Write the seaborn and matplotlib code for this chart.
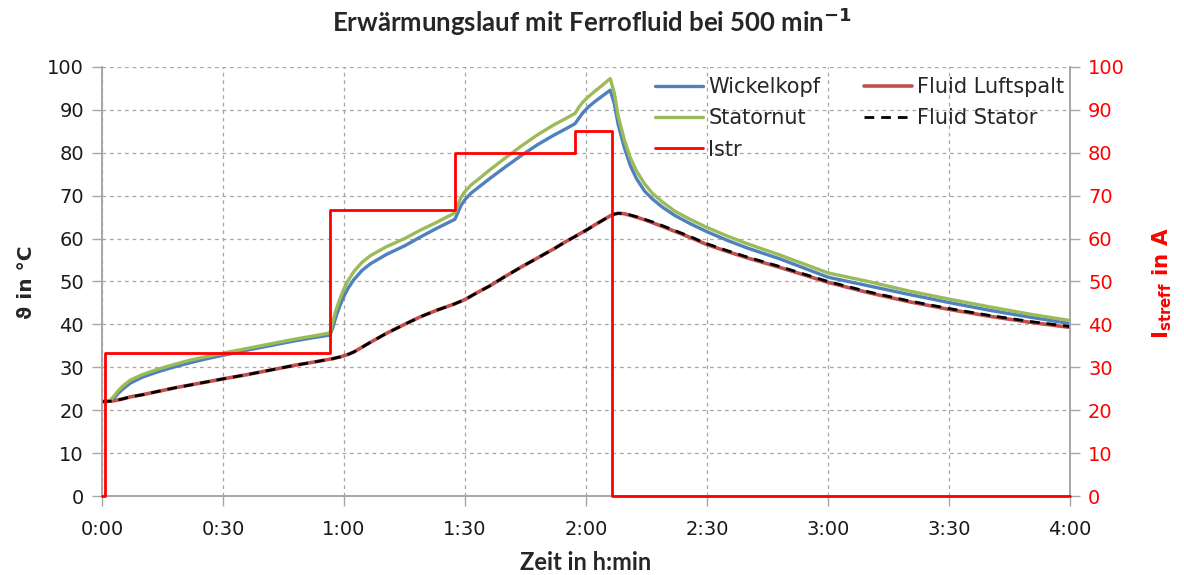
import matplotlib
matplotlib.use("Agg")
import matplotlib.pyplot as plt
import seaborn as sns
import numpy as np
import pandas as pd
from matplotlib.ticker import FuncFormatter

# ---------------- data ----------------
t_min = [0, 2, 3, 4, 5, 7, 10, 14, 18, 22, 26, 30, 36, 42, 48, 53, 56.5, 57.2, 58, 59,
         60, 61, 62.5, 64.5, 66.5, 70.5, 75, 79, 83, 87.5, 88.2, 89, 90, 91.5, 93, 96,
         100, 104, 108, 112, 115, 117.3, 118.2, 119.2, 120.5, 122, 124, 126, 127, 128,
         129.5, 131, 132.5, 134.5, 136.5, 139, 142, 146, 150, 155, 160, 168, 180, 190,
         200, 210, 220, 230, 240]

wickelkopf = [22.0, 22.1, 22.8, 23.9, 24.8, 26.3, 27.7, 29.0, 30.1, 31.1, 32.0, 32.8,
              34.0, 35.1, 36.2, 37.0, 37.5, 39.2, 41.8, 44.4, 46.6, 48.4, 50.5, 52.6,
              54.1, 56.3, 58.3, 60.4, 62.4, 64.5, 66.0, 67.7, 69.1, 70.6, 71.7, 73.9,
              76.7, 79.4, 81.9, 84.1, 85.6, 86.8, 88.0, 89.3, 90.6, 91.8, 93.2, 94.6,
              91.5, 86.5, 81.2, 77.0, 74.0, 71.1, 69.2, 67.3, 65.4, 63.4, 61.6, 59.6,
              57.8, 55.3, 51.0, 49.0, 47.0, 45.1, 43.3, 41.7, 40.2]

statornut = [22.0, 22.3, 23.3, 24.5, 25.5, 27.0, 28.3, 29.6, 30.7, 31.7, 32.5, 33.3,
             34.4, 35.5, 36.6, 37.4, 38.0, 40.5, 43.3, 46.0, 48.3, 50.2, 52.4, 54.5,
             56.0, 58.1, 60.0, 62.0, 63.8, 66.0, 67.8, 69.6, 71.0, 72.5, 73.6, 75.9,
             78.8, 81.6, 84.2, 86.5, 88.0, 89.2, 90.6, 91.8, 93.0, 94.2, 95.7, 97.3,
             94.0, 88.5, 83.0, 78.8, 75.8, 72.8, 70.5, 68.5, 66.4, 64.4, 62.6, 60.6,
             58.8, 56.2, 52.0, 50.0, 47.8, 45.9, 44.1, 42.4, 40.9]

fluid_luftspalt = [22.0, 22.1, 22.2, 22.4, 22.6, 23.1, 23.6, 24.4, 25.2, 25.9, 26.6,
                   27.3, 28.3, 29.4, 30.5, 31.3, 31.9, 32.0, 32.2, 32.4, 32.7, 33.0,
                   33.6, 34.7, 35.8, 37.9, 40.0, 41.8, 43.3, 44.8, 45.1, 45.4, 45.8,
                   46.6, 47.4, 48.9, 51.2, 53.4, 55.5, 57.6, 59.3, 60.5, 61.0, 61.5,
                   62.2, 63.1, 64.2, 65.3, 65.7, 65.9, 65.8, 65.4, 65.0, 64.4, 63.7,
                   62.8, 61.7, 60.2, 58.6, 57.0, 55.5, 53.3, 49.8, 47.4, 45.3, 43.5,
                   41.9, 40.5, 39.3]

fluid_stator = [22.0, 22.1, 22.2, 22.4, 22.6, 23.1, 23.6, 24.4, 25.2, 25.9, 26.6,
                27.3, 28.3, 29.4, 30.5, 31.3, 31.9, 32.0, 32.2, 32.4, 32.7, 33.0,
                33.6, 34.7, 35.8, 37.9, 40.0, 41.8, 43.3, 44.8, 45.1, 45.4, 45.8,
                46.6, 47.4, 48.9, 51.2, 53.4, 55.5, 57.6, 59.3, 60.5, 61.0, 61.5,
                62.2, 63.1, 64.2, 65.3, 65.7, 65.9, 65.8, 65.5, 65.1, 64.5, 63.9,
                63.0, 61.9, 60.4, 58.8, 57.2, 55.7, 53.5, 50.0, 47.6, 45.5, 43.7,
                42.1, 40.7, 39.5]

t_istr = [0, 0.75, 56.5, 87.5, 117.3, 126.5, 240]
istr = [0, 33.3, 66.7, 80, 85, 0, 0]

x_ticks = [0, 30, 60, 90, 120, 150, 180, 210, 240]
y_ticks = [0, 10, 20, 30, 40, 50, 60, 70, 80, 90, 100]

# ---------------- style ----------------
sns.set_theme(style="white")
plt.rcParams['font.family'] = ['DejaVu Sans']

GRAY = "#A6A6A6"
fig = plt.figure(figsize=(11.84, 5.75), dpi=100)
ax = fig.add_axes([102/1184, 1 - 496/575, (1070-102)/1184, (496-67)/575])
ax2 = ax.twinx()

df = pd.DataFrame({"t": t_min, "Wickelkopf": wickelkopf, "Statornut": statornut,
                   "Fluid Luftspalt": fluid_luftspalt, "Fluid Stator": fluid_stator})
df_i = pd.DataFrame({"t": t_istr, "Istr": istr})

sns.lineplot(data=df, x="t", y="Wickelkopf", ax=ax, color="#4F81BD", lw=2.4,
             label="Wickelkopf", legend=False, zorder=4)
sns.lineplot(data=df, x="t", y="Statornut", ax=ax, color="#9BBB59", lw=2.4,
             label="Statornut", legend=False, zorder=5)
sns.lineplot(data=df, x="t", y="Fluid Luftspalt", ax=ax, color="#C0504D", lw=2.6,
             label="Fluid Luftspalt", legend=False, zorder=4)
sns.lineplot(data=df, x="t", y="Fluid Stator", ax=ax, color="black", lw=2.0,
             linestyle=(0, (3.5, 2.5)), label="Fluid Stator", legend=False, zorder=5)
sns.lineplot(data=df_i, x="t", y="Istr", ax=ax2, color="#FF0000", lw=2.0,
             drawstyle="steps-post", label="Istr", legend=False, zorder=6,
             clip_on=False)

for a in (ax, ax2):
    a.set_xlim(0, 240)
    a.set_ylim(0, 100)
    a.set_yticks(y_ticks)
    a.set_xlabel("")
    a.set_ylabel("")

ax.set_xticks(x_ticks)
ax.xaxis.set_major_formatter(FuncFormatter(lambda v, p: f"{int(v)//60}:{int(v)%60:02d}"))
ax.grid(True, axis="both", color=GRAY, linestyle=(0, (3, 3)), lw=0.9)
ax2.grid(False)
ax.set_axisbelow(True)
ax2.set_zorder(ax.get_zorder() + 1)
ax2.patch.set_visible(False)

for a in (ax, ax2):
    for s in ("left", "right", "bottom"):
        a.spines[s].set_color(GRAY)
        a.spines[s].set_linewidth(1.2)
    a.spines["top"].set_visible(False)

ax.tick_params(axis="both", which="major", direction="out", length=7, width=1,
               color=GRAY, labelsize=14, labelcolor="#1a1a1a", pad=6,
               left=True, bottom=True)
ax.tick_params(axis="x", pad=10)
ax2.tick_params(axis="y", direction="out", length=7, width=1, color=GRAY,
                labelsize=14, labelcolor="#FF0000", pad=6, right=True)

fig.text(0.5, 1 - 22/575, r"Erwärmungslauf mit Ferrofluid bei 500 min$^{\mathbf{-1}}$",
         ha="center", va="center", fontsize=18.5, fontweight="bold",
         family=["Lato", "DejaVu Sans"])
fig.text(27/1184, 1 - 282/575, "ϑ in °C", rotation=90, ha="center", va="center",
         fontsize=14.5, fontweight="bold", family=["DejaVu Sans"])
fig.text(1162/1184, 1 - 283/575, r"I$_{\mathbf{streff}}$ in A", rotation=90,
         ha="center", va="center", fontsize=15.5, fontweight="bold",
         color="#FF0000", family=["DejaVu Sans"])
fig.text(586/1184, 1 - 563/575, "Zeit in h:min", ha="center", va="center",
         fontsize=17, fontweight="bold", family=["Lato", "DejaVu Sans"])

h1, l1 = ax.get_legend_handles_labels()
h2, l2 = ax2.get_legend_handles_labels()
hd = dict(zip(l1 + l2, h1 + h2))
order = ["Wickelkopf", "Statornut", "Istr", "Fluid Luftspalt", "Fluid Stator"]
leg = ax2.legend([hd[k] for k in order], order, ncol=2, frameon=False,
                 loc="upper left", bbox_to_anchor=(655/1184, 1 - 77/575),
                 bbox_transform=fig.transFigure, fontsize=15,
                 handlelength=2.3, handletextpad=0.25, columnspacing=2.1,
                 labelspacing=0.54, borderaxespad=0, borderpad=0)

fig.savefig("out.png", dpi=100)
